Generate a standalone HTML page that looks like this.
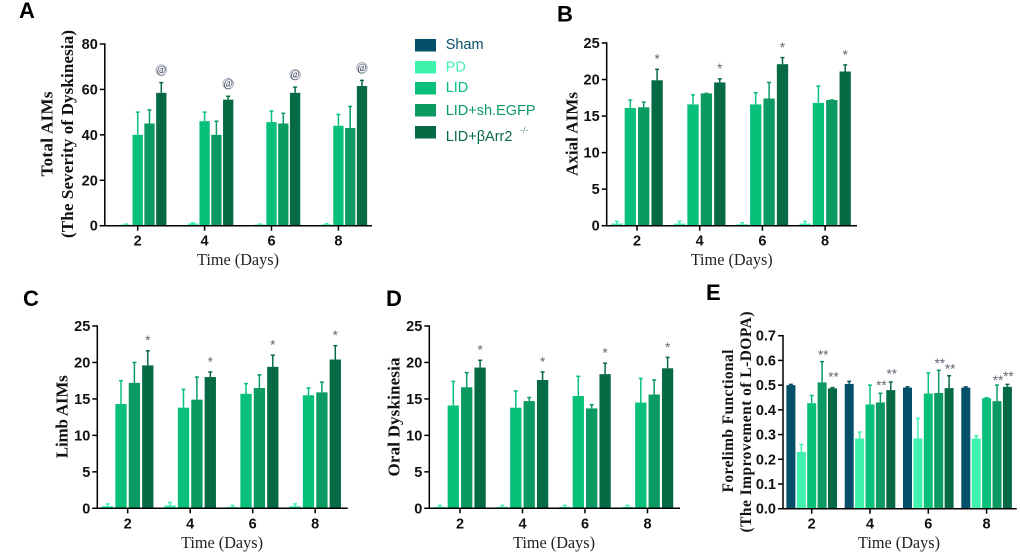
<!DOCTYPE html>
<html>
<head>
<meta charset="utf-8">
<title>Dyskinesia bar charts</title>
<style>
html,body{margin:0;padding:0;background:#fff;width:1020px;height:553px;overflow:hidden}
svg{display:block}
.tick{font:bold 14.5px "Liberation Sans",sans-serif;fill:#111}
.xt{font:16.5px "Liberation Serif",serif;fill:#222}
.yt{font-family:"Liberation Serif",serif;font-weight:bold;fill:#111}
.letter{font:bold 22px "Liberation Sans",sans-serif;fill:#000}
.leg{font:14.5px "Liberation Sans",sans-serif}
.star{font:13.5px "Liberation Sans",sans-serif;fill:#667}
.at{font:italic 10px "Liberation Serif",serif;fill:#234}
</style>
</head>
<body>
<svg id="fig" xmlns="http://www.w3.org/2000/svg" width="1020" height="553" viewBox="0 0 1020 553"></svg>
<script>
const categories = [2, 4, 6, 8];
const legendLabels = ['Sham', 'PD', 'LID', 'LID+sh.EGFP', 'LID+βArr2'];
const shamColor = '#04506a';
const pdColor = '#3ff2ae';
const lidColor = '#08c07a';
const shColor = '#0a9a62';
const arrColor = '#066a44';

const ticksA = [0, 20, 40, 60, 80];
const pdMeanA = [0.5, 1, 0.5, 0.6];
const pdTopA = [0.7, 1.3, 0.7, 0.9];
const lidMeanA = [40, 46, 45.6, 44];
const lidTopA = [50, 50, 50.5, 49];
const shMeanA = [45, 40, 45, 43];
const shTopA = [51, 46, 49.5, 52.5];
const arrMeanA = [58.5, 55.5, 58.5, 61.5];
const arrTopA = [63, 57, 61, 64];

const ticksB = [0, 5, 10, 15, 20, 25];
const pdMeanB = [0.3, 0.3, 0.2, 0.3];
const pdTopB = [0.6, 0.6, 0.4, 0.6];
const lidMeanB = [16.1, 16.6, 16.6, 16.8];
const lidTopB = [17.2, 17.9, 18.2, 19.1];
const shMeanB = [16.2, 18.1, 17.4, 17.2];
const shTopB = [16.9, 18.1, 19.6, 17.2];
const arrMeanB = [19.9, 19.6, 22.1, 21.1];
const arrTopB = [21.4, 20.1, 23, 22];

const ticksC = [0, 5, 10, 15, 20, 25];
const pdMeanC = [0.3, 0.4, 0.2, 0.3];
const pdTopC = [0.6, 0.8, 0.4, 0.6];
const lidMeanC = [14.3, 13.8, 15.7, 15.5];
const lidTopC = [17.5, 16.3, 17.1, 16.5];
const shMeanC = [17.2, 14.9, 16.5, 15.9];
const shTopC = [20, 18, 18.3, 17.3];
const arrMeanC = [19.6, 18, 19.4, 20.4];
const arrTopC = [21.6, 18.7, 21, 22.3];

const ticksD = [0, 5, 10, 15, 20, 25];
const pdMeanD = [0.2, 0.2, 0.2, 0.2];
const pdTopD = [0.4, 0.4, 0.4, 0.4];
const lidMeanD = [14.1, 13.8, 15.4, 14.5];
const lidTopD = [17.4, 16.1, 18.1, 17.8];
const shMeanD = [16.6, 14.7, 13.7, 15.6];
const shTopD = [18.6, 15.2, 14.2, 17.6];
const arrMeanD = [19.3, 17.6, 18.4, 19.2];
const arrTopD = [20.3, 18.7, 19.9, 20.7];

const ticksE = [0, 0.1, 0.2, 0.3, 0.4, 0.5, 0.6, 0.7];
const shamMeanE = [0.5, 0.505, 0.49, 0.49];
const shamTopE = [0.503, 0.515, 0.493, 0.493];
const pdMeanE = [0.23, 0.284, 0.284, 0.284];
const pdTopE = [0.26, 0.31, 0.365, 0.295];
const lidMeanE = [0.427, 0.422, 0.466, 0.447];
const lidTopE = [0.458, 0.5, 0.55, 0.449];
const shMeanE = [0.511, 0.43, 0.468, 0.435];
const shTopE = [0.595, 0.467, 0.56, 0.5];
const arrMeanE = [0.487, 0.48, 0.488, 0.493];
const arrTopE = [0.49, 0.513, 0.538, 0.503];
const shStarLiftE = [8, 9, 8, 6];
const arrStarLiftE = [11.6, 9, 8, 9];

const NS = 'http://www.w3.org/2000/svg';
const fig = document.getElementById('fig');

function mk(parent, tag, attrs, text) {
  const el = document.createElementNS(NS, tag);
  for (const k in attrs) el.setAttribute(k, attrs[k]);
  if (text !== undefined) el.textContent = text;
  parent.appendChild(el);
  return el;
}

function drawPanel(p) {
  const g = mk(fig, 'g', {});
  
  

  const yMax = p.ticks[p.ticks.length - 1];
  const yScale = v => p.y0 - (v / yMax) * (p.y0 - p.yTop);
  const xScale = c => p.x2 + ((c - categories[0]) / (categories[1] - categories[0])) * p.groupStep;

  const letter = mk(g, 'text', { x: p.letterX, y: p.letterY, class: 'letter' }, p.id);
  
  

  p.series.forEach((s, si) => {
    const bx = p.first + si;
    s.mean.forEach((v, i) => {
      const cx = xScale(categories[i]) + bx * p.barStep;
      const top = yScale(v);
      const errY = yScale(s.top[i]);

      const bar = mk(g, 'rect', { x: cx - p.barW / 2, y: top, width: p.barW, height: p.y0 - top, fill: s.color });
      
      

      const stem = mk(g, 'line', { x1: cx, x2: cx, y1: top, y2: errY, stroke: s.color, 'stroke-width': 1.5 });
      
      

      const cap = mk(g, 'line', { x1: cx - 2, x2: cx + 2, y1: errY, y2: errY, stroke: s.color, 'stroke-width': 1.5 });
      
      

      if (s.mark === '@') {
        const ring = mk(g, 'circle', { cx: cx, cy: errY - 12.5, r: 5.2, fill: '#f4f4f8', stroke: '#aab', 'stroke-width': 1 });
        
        
        const at = mk(g, 'text', { x: cx, y: errY - 9.5, 'text-anchor': 'middle', class: 'at' }, '@');
        
        
      } else if (s.mark) {
        const lift = s.lift ? s.lift[i] : 11.3;
        const st = mk(g, 'text', { x: cx + (s.mark.length > 1 ? 1 : 0), y: errY - lift + 5.7, 'text-anchor': 'middle', class: 'star' }, s.mark);
        
        
      }
    });
  });

  const yAxis = mk(g, 'line', { x1: p.axisX, x2: p.axisX, y1: p.yTop - 0.7, y2: p.y0 + 0.7, stroke: '#000', 'stroke-width': 1.5 });
  
  

  const xAxis = mk(g, 'line', { x1: p.axisX - 5, x2: p.xEnd, y1: p.y0, y2: p.y0, stroke: '#000', 'stroke-width': 1.5 });
  
  

  p.ticks.forEach(t => {
    const y = yScale(t);
    const tk = mk(g, 'line', { x1: p.axisX - 5, x2: p.axisX, y1: y, y2: y, stroke: '#000', 'stroke-width': 1.5 });
    
    
    const lb = mk(g, 'text', { x: p.axisX - 7, y: y + 5, 'text-anchor': 'end', class: 'tick' }, p.decimals ? t.toFixed(p.decimals) : String(t));
    
    
  });

  categories.forEach(c => {
    const x = xScale(c);
    const tk = mk(g, 'line', { x1: x, x2: x, y1: p.y0, y2: p.y0 + 5, stroke: '#000', 'stroke-width': 1.5 });
    
    
    const lb = mk(g, 'text', { x: x, y: p.y0 + 20, 'text-anchor': 'middle', class: 'tick' }, String(c));
    
    
  });

  const xt = mk(g, 'text', { x: p.xTitleX, y: p.y0 + 39.5, 'text-anchor': 'middle', class: 'xt', textLength: 82, lengthAdjust: 'spacingAndGlyphs' }, 'Time (Days)');
  
  

  p.yTitles.forEach(t => {
    const yt = mk(g, 'text', { transform: 'translate(' + t.x + ',' + t.y + ') rotate(-90)', 'text-anchor': 'middle', class: 'yt', 'font-size': t.size, textLength: t.len, lengthAdjust: 'spacing' }, t.text);
    
    
  });
}

drawPanel({
  id: 'A', ticks: ticksA, axisX: 104.8, xEnd: 372, yTop: 44, y0: 225.7, x2: 137.7, groupStep: 66.9,
  barW: 10.3, barStep: 11.8, first: -1, letterX: 19, letterY: 18, xTitleX: 238,
  yTitles: [
    { text: 'Total AIMs', x: 52.5, y: 134, len: 85, size: 17 },
    { text: '(The Severity of Dyskinesia)', x: 73, y: 134, len: 208, size: 17 }
  ],
  series: [
    { key: 'pd', color: pdColor, mean: pdMeanA, top: pdTopA },
    { key: 'lid', color: lidColor, mean: lidMeanA, top: lidTopA },
    { key: 'sh-egfp', color: shColor, mean: shMeanA, top: shTopA },
    { key: 'barr2', color: arrColor, mean: arrMeanA, top: arrTopA, mark: '@' }
  ]
});

drawPanel({
  id: 'B', ticks: ticksB, axisX: 606.7, xEnd: 857, yTop: 43, y0: 225.7, x2: 637, groupStep: 62.7,
  barW: 11.3, barStep: 13.4, first: -1.5, letterX: 557, letterY: 21.7, xTitleX: 731.7,
  yTitles: [{ text: 'Axial AIMs', x: 577.5, y: 134, len: 84, size: 17 }],
  series: [
    { key: 'pd', color: pdColor, mean: pdMeanB, top: pdTopB },
    { key: 'lid', color: lidColor, mean: lidMeanB, top: lidTopB },
    { key: 'sh-egfp', color: shColor, mean: shMeanB, top: shTopB },
    { key: 'barr2', color: arrColor, mean: arrMeanB, top: arrTopB, mark: '*' }
  ]
});

drawPanel({
  id: 'C', ticks: ticksC, axisX: 97.3, xEnd: 347.7, yTop: 326, y0: 508.3, x2: 127.7, groupStep: 62.5,
  barW: 11.3, barStep: 13.4, first: -1.5, letterX: 23, letterY: 306, xTitleX: 222,
  yTitles: [{ text: 'Limb AIMs', x: 67.5, y: 416.7, len: 83, size: 17 }],
  series: [
    { key: 'pd', color: pdColor, mean: pdMeanC, top: pdTopC },
    { key: 'lid', color: lidColor, mean: lidMeanC, top: lidTopC },
    { key: 'sh-egfp', color: shColor, mean: shMeanC, top: shTopC },
    { key: 'barr2', color: arrColor, mean: arrMeanC, top: arrTopC, mark: '*' }
  ]
});

drawPanel({
  id: 'D', ticks: ticksD, axisX: 429.3, xEnd: 680, yTop: 326, y0: 508.3, x2: 460, groupStep: 62.5,
  barW: 11.3, barStep: 13.4, first: -1.5, letterX: 386, letterY: 306, xTitleX: 554,
  yTitles: [{ text: 'Oral Dyskinesia', x: 399.5, y: 417, len: 119, size: 17 }],
  series: [
    { key: 'pd', color: pdColor, mean: pdMeanD, top: pdTopD },
    { key: 'lid', color: lidColor, mean: lidMeanD, top: lidTopD },
    { key: 'sh-egfp', color: shColor, mean: shMeanD, top: shTopD },
    { key: 'barr2', color: arrColor, mean: arrMeanD, top: arrTopD, mark: '*' }
  ]
});

drawPanel({
  id: 'E', ticks: ticksE, decimals: 1, axisX: 783, xEnd: 1016.7, yTop: 335.7, y0: 508.7, x2: 811.7, groupStep: 58.3,
  barW: 9, barStep: 10.4, first: -2, letterX: 706, letterY: 300, xTitleX: 899,
  yTitles: [
    { text: 'Forelimb Functional', x: 733, y: 421, len: 143, size: 15.5 },
    { text: '(The Improvement of L-DOPA)', x: 751, y: 422, len: 221, size: 15.5 }
  ],
  series: [
    { key: 'sham', color: shamColor, mean: shamMeanE, top: shamTopE },
    { key: 'pd', color: pdColor, mean: pdMeanE, top: pdTopE },
    { key: 'lid', color: lidColor, mean: lidMeanE, top: lidTopE },
    { key: 'sh-egfp', color: shColor, mean: shMeanE, top: shTopE, mark: '**', lift: shStarLiftE },
    { key: 'barr2', color: arrColor, mean: arrMeanE, top: arrTopE, mark: '**', lift: arrStarLiftE }
  ]
});

const legendColors = [shamColor, pdColor, lidColor, shColor, arrColor];
const legendGroup = mk(fig, 'g', {});


const swatchTops = [39, 61, 82, 104, 126];
const textBase = [49, 71.5, 92, 115, 141];
legendLabels.forEach((label, i) => {
  const sw = mk(legendGroup, 'rect', { x: 415, y: swatchTops[i], width: 21, height: 12.5, fill: legendColors[i] });
  
  
  const tx = mk(legendGroup, 'text', { x: 445.7, y: textBase[i], class: 'leg', fill: legendColors[i] }, label);
  
  
});
const sup = mk(legendGroup, 'text', { x: 520, y: 133, fill: '#5a9a80', style: 'font:9px "Liberation Sans",sans-serif' }, '-/-');


</script>
</body>
</html>
